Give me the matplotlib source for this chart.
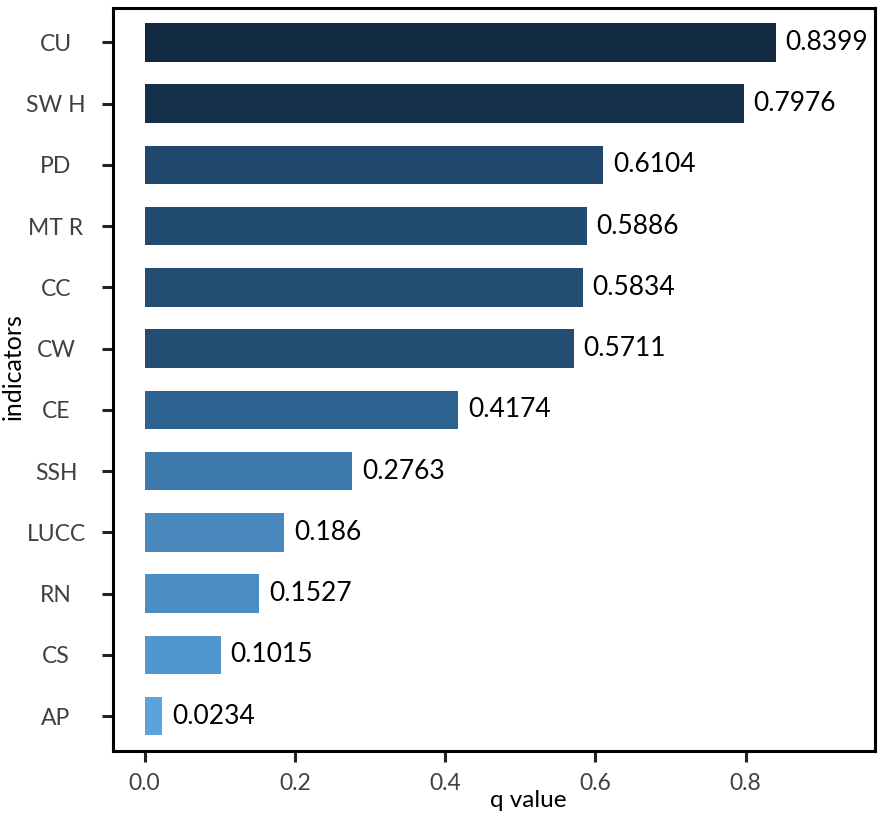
import matplotlib
matplotlib.use("Agg")
import matplotlib.pyplot as plt
import numpy as np
from matplotlib.colors import LinearSegmentedColormap, Normalize

plt.rcParams['font.family'] = ['Lato', 'DejaVu Sans']

# 指標とq値
indicators = ["CU", "SW H", "PD", "MT R", "CC", "CW", "CE", "SSH", "LUCC", "RN", "CS", "AP"]
q_values = [0.8399, 0.7976, 0.6104, 0.5886, 0.5834, 0.5711, 0.4174, 0.2763, 0.186, 0.1527, 0.1015, 0.0234]
value_labels = ["0.8399", "0.7976", "0.6104", "0.5886", "0.5834", "0.5711", "0.4174", "0.2763", "0.186", "0.1527", "0.1015", "0.0234"]

# 値に応じた青のグラデーション
cmap = LinearSegmentedColormap.from_list(
    "qblues", [(0.0, "#5aa3dc"), (0.48, "#2d6290"), (1.0, "#112a42")])
norm = Normalize(vmin=min(q_values), vmax=max(q_values))
colors = [cmap(norm(v)) for v in q_values]

fig = plt.figure(figsize=(8.86, 8.19), dpi=100)
ax = fig.add_axes([0.1275, 0.083, 0.86, 0.907])

y = np.arange(len(indicators))[::-1]
bars = ax.barh(y, q_values, height=0.63, color=colors)
ax.bar_label(bars, labels=value_labels, padding=7, fontsize=19, color="black")

ax.set_yticks(y)
ax.set_yticklabels(indicators)
ax.set_xticks([0.0, 0.2, 0.4, 0.6, 0.8])
ax.set_xticklabels(["0.0", "0.2", "0.4", "0.6", "0.8"])
ax.set_xlim(-0.042, 0.972)
ax.set_ylim(-0.57, 11.56)

ax.tick_params(axis="both", length=8, width=2.2, labelsize=16.5, labelcolor="#404040", color="#222222")
ax.tick_params(axis="y", pad=33)
ax.tick_params(axis="x", pad=8)
for lab in ax.get_yticklabels():
    lab.set_horizontalalignment("center")  # 縦軸ラベルは中央揃え
for sp in ax.spines.values():
    sp.set_linewidth(2.2)
    sp.set_color("black")

ax.set_xlabel("q value", fontsize=17.5)
ax.set_ylabel("indicators", fontsize=18)
ax.xaxis.set_label_coords(0.545, -0.052)
ax.yaxis.set_label_coords(-0.1155, 0.517)

fig.savefig("out.png", dpi=100)
